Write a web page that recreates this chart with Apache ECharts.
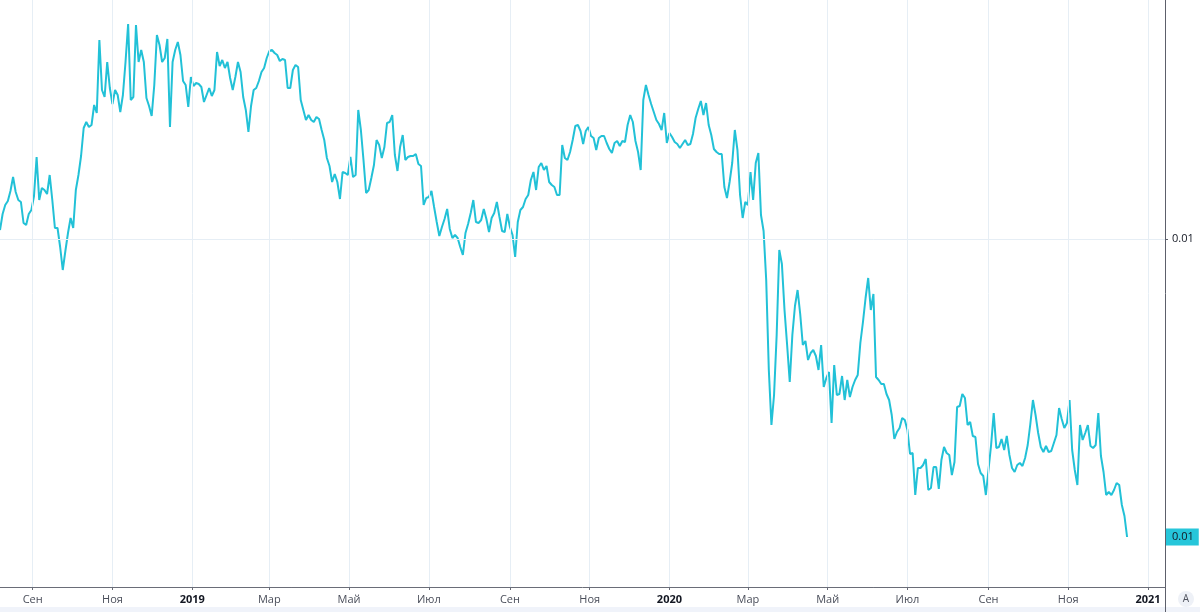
<!DOCTYPE html>
<html>
<head>
<meta charset="utf-8">
<title>chart</title>
<script src="https://cdn.jsdelivr.net/npm/echarts@6/dist/echarts.min.js"></script>
<style>
    html, body { margin: 0; padding: 0; background: #fff; }
    #main { width: 1200px; height: 612px; }
</style>
</head>
<body>
<div id="main"></div>
<script>
// 价格数据: 从 startDate 起, 每 stepDays 天一个点
var startDate = '2018-08-07'
var stepDays = 2
var prices = [
    0.01009, 0.01025, 0.01034, 0.01038, 0.01048, 0.01062, 0.01047, 0.01039, 0.01037, 0.01016, 0.01014, 0.01025,
    0.01029, 0.01043, 0.01082, 0.01039, 0.01051, 0.01049, 0.01045, 0.01064, 0.01039, 0.01011, 0.01011, 0.00992,
    0.00969, 0.00988, 0.01006, 0.01021, 0.01011, 0.01049, 0.01064, 0.01083, 0.01111, 0.01117, 0.01112, 0.01114,
    0.01134, 0.01126, 0.01199, 0.01149, 0.01142, 0.01177, 0.01151, 0.01135, 0.01149, 0.01144, 0.01127, 0.01144,
    0.01177, 0.01215, 0.01139, 0.01142, 0.01214, 0.01177, 0.01189, 0.01177, 0.01141, 0.01133, 0.01123, 0.01154,
    0.01204, 0.01194, 0.01177, 0.01181, 0.01200, 0.01112, 0.01177, 0.01189, 0.01197, 0.01184, 0.01158, 0.01154,
    0.01132, 0.01162, 0.01153, 0.01156, 0.01155, 0.01152, 0.01137, 0.01144, 0.01151, 0.01143, 0.01149, 0.01187,
    0.01173, 0.01179, 0.01171, 0.01177, 0.01161, 0.01149, 0.01162, 0.01177, 0.01167, 0.01142, 0.01129, 0.01107,
    0.01133, 0.01149, 0.01151, 0.01158, 0.01167, 0.01171, 0.01181, 0.01188, 0.01189, 0.01186, 0.01184, 0.01178,
    0.01180, 0.01179, 0.01151, 0.01151, 0.01169, 0.01174, 0.01172, 0.01139, 0.01129, 0.01119, 0.01124, 0.01119,
    0.01117, 0.01122, 0.01120, 0.01109, 0.01099, 0.01081, 0.01073, 0.01057, 0.01065, 0.01057, 0.01040, 0.01067,
    0.01066, 0.01064, 0.01082, 0.01062, 0.01064, 0.01129, 0.01109, 0.01079, 0.01046, 0.01049, 0.01061, 0.01074,
    0.01099, 0.01094, 0.01081, 0.01092, 0.01116, 0.01117, 0.01124, 0.01084, 0.01068, 0.01092, 0.01104, 0.01079,
    0.01082, 0.01083, 0.01083, 0.01085, 0.01075, 0.01073, 0.01034, 0.01041, 0.01042, 0.01048, 0.01032, 0.01017,
    0.01003, 0.01012, 0.01020, 0.01030, 0.01010, 0.01001, 0.01004, 0.01001, 0.00992, 0.00984, 0.01006, 0.01015,
    0.01026, 0.01039, 0.01017, 0.01016, 0.01019, 0.01030, 0.01020, 0.01007, 0.01021, 0.01026, 0.01037, 0.01022,
    0.01008, 0.01007, 0.01025, 0.01012, 0.01004, 0.00982, 0.01017, 0.01029, 0.01032, 0.01040, 0.01044, 0.01059,
    0.01067, 0.01049, 0.01072, 0.01076, 0.01069, 0.01073, 0.01057, 0.01054, 0.01052, 0.01044, 0.01044, 0.01094,
    0.01081, 0.01079, 0.01087, 0.01099, 0.01113, 0.01114, 0.01108, 0.01095, 0.01108, 0.01112, 0.01103, 0.01101,
    0.01089, 0.01101, 0.01103, 0.01103, 0.01096, 0.01090, 0.01086, 0.01096, 0.01098, 0.01093, 0.01098, 0.01097,
    0.01114, 0.01124, 0.01117, 0.01098, 0.01087, 0.01069, 0.01139, 0.01154, 0.01144, 0.01135, 0.01127, 0.01119,
    0.01115, 0.01109, 0.01126, 0.01096, 0.01106, 0.01102, 0.01097, 0.01095, 0.01091, 0.01095, 0.01099, 0.01094,
    0.01095, 0.01105, 0.01121, 0.01130, 0.01138, 0.01124, 0.01136, 0.01114, 0.01104, 0.01090, 0.01087, 0.01085,
    0.01085, 0.01052, 0.01041, 0.01057, 0.01076, 0.01109, 0.01089, 0.01044, 0.01021, 0.01037, 0.01034, 0.01067,
    0.01039, 0.01076, 0.01086, 0.01024, 0.01008, 0.00959, 0.00869, 0.00814, 0.00844, 0.00904, 0.00989, 0.00975,
    0.00929, 0.00894, 0.00857, 0.00904, 0.00933, 0.00949, 0.00925, 0.00894, 0.00898, 0.00879, 0.00886, 0.00889,
    0.00883, 0.00869, 0.00894, 0.00852, 0.00861, 0.00867, 0.00816, 0.00874, 0.00844, 0.00845, 0.00863, 0.00839,
    0.00859, 0.00842, 0.00852, 0.00859, 0.00864, 0.00896, 0.00917, 0.00941, 0.00961, 0.00929, 0.00945, 0.00862,
    0.00859, 0.00855, 0.00855, 0.00845, 0.00839, 0.00824, 0.00800, 0.00807, 0.00811, 0.00821, 0.00819, 0.00809,
    0.00785, 0.00786, 0.00744, 0.00771, 0.00771, 0.00774, 0.00780, 0.00749, 0.00751, 0.00772, 0.00772, 0.00750,
    0.00779, 0.00792, 0.00786, 0.00784, 0.00764, 0.00777, 0.00832, 0.00833, 0.00845, 0.00841, 0.00814, 0.00817,
    0.00803, 0.00802, 0.00775, 0.00766, 0.00763, 0.00744, 0.00769, 0.00794, 0.00826, 0.00791, 0.00792, 0.00800,
    0.00789, 0.00803, 0.00784, 0.00771, 0.00767, 0.00774, 0.00776, 0.00773, 0.00781, 0.00794, 0.00815, 0.00839,
    0.00824, 0.00806, 0.00792, 0.00787, 0.00793, 0.00787, 0.00788, 0.00796, 0.00804, 0.00831, 0.00820, 0.00811,
    0.00816, 0.00839, 0.00789, 0.00769, 0.00754, 0.00814, 0.00799, 0.00806, 0.00814, 0.00793, 0.00791, 0.00794,
    0.00826, 0.00783, 0.00767, 0.00744, 0.00747, 0.00744, 0.00749, 0.00756, 0.00754, 0.00734, 0.00723, 0.00702
]

// x 轴刻度 (每两个月)
var tickDates = ['2018-09-01', '2018-11-01', '2019-01-01', '2019-03-01', '2019-05-01', '2019-07-01', '2019-09-01',
    '2019-11-01', '2020-01-01', '2020-03-01', '2020-05-01', '2020-07-01', '2020-09-01', '2020-11-01', '2021-01-01']
var tickLabels = ['Сен', 'Ноя', '2019', 'Мар', 'Май', 'Июл', 'Сен', 'Ноя', '2020', 'Мар', 'Май', 'Июл', 'Сен', 'Ноя', '2021']
// y 轴刻度
var priceTicks = [0.01]

function toTime(s) {
    var p = s.split('-')
    return new Date(+p[0], +p[1] - 1, +p[2]).getTime()
}

var start = toTime(startDate)
var seriesData = []
for (var i = 0; i < prices.length; i++) {
    var d = new Date(start)
    d.setDate(d.getDate() + i * stepDays)
    seriesData.push([d.getTime(), prices[i]])
}
var lastPrice = prices[prices.length - 1]

var tickTimes = []
var gridLines = []
for (var i = 0; i < tickDates.length; i++) {
    tickTimes.push(toTime(tickDates[i]))
    gridLines.push({ xAxis: toTime(tickDates[i]) })
}
for (var i = 0; i < priceTicks.length; i++) {
    gridLines.push({ yAxis: priceTicks[i] })
}

var myChart = echarts.init(document.getElementById('main'))
var option = {
    animation: false,
    textStyle: { fontFamily: 'Open Sans' },
    grid: { left: 0, right: 35, top: 0, bottom: 25 },
    xAxis: {
        // 用数值轴放时间戳, 刻度用 customValues
        type: 'value',
        min: toTime('2018-08-07'),
        max: toTime('2021-01-14'),
        axisLine: { lineStyle: { color: '#6a6d78', width: 1 } },
        axisTick: { show: true, customValues: tickTimes, length: 3, lineStyle: { color: '#6a6d78' } },
        axisLabel: {
            customValues: tickTimes,
            margin: 7,
            fontSize: 11,
            color: '#4a4e5a',
            formatter: function (v) {
                var k = tickTimes.indexOf(v)
                var s = k >= 0 ? tickLabels[k] : ''
                return /^\d{4}$/.test(s) ? '{y|' + s + '}' : s
            },
            rich: { y: { fontWeight: 'bold', fontSize: 11, color: '#131722' } }
        },
        splitLine: { show: false }
    },
    yAxis: {
        type: 'value',
        position: 'right',
        min: 0.00652,
        max: 0.01239,
        axisLine: { show: true, lineStyle: { color: '#5d606b' } },
        axisTick: { show: true, customValues: [0.01, lastPrice], length: 3, lineStyle: { color: '#5d606b' } },
        axisLabel: {
            customValues: priceTicks,
            margin: 7,
            fontSize: 11,
            color: '#131722',
            formatter: function (v) { return v.toFixed(2) }
        },
        splitLine: { show: false }
    },
    series: [
        {
            // 网格线
            type: 'line',
            data: [],
            z: 1,
            silent: true,
            markLine: {
                silent: true,
                symbol: 'none',
                precision: 5,
                label: { show: false },
                lineStyle: { color: '#e6eef5', width: 1, type: 'solid' },
                data: gridLines
            }
        },
        {
            type: 'line',
            data: seriesData,
            z: 3,
            showSymbol: false,
            symbol: 'none',
            lineStyle: { color: '#22c1d7', width: 2 },
            markLine: {
                // 最新价格标签
                silent: true,
                symbol: 'none',
                precision: 5,
                lineStyle: { color: 'rgba(0,0,0,0)', width: 0 },
                label: {
                    show: true,
                    position: 'end',
                    distance: 1,
                    formatter: lastPrice.toFixed(2),
                    backgroundColor: '#26c6da',
                    color: '#131722',
                    fontSize: 11,
                    padding: [3, 5, 3, 6]
                },
                data: [{ yAxis: lastPrice }]
            }
        }
    ],
    graphic: [
        { type: 'rect', shape: { x: 0, y: 607, width: 1200, height: 5 }, style: { fill: '#f0f3fa' }, silent: true },
        { type: 'line', shape: { x1: 1165.5, y1: 587, x2: 1165.5, y2: 612 }, style: { stroke: '#5d606b', lineWidth: 1 }, silent: true },
        { type: 'circle', shape: { cx: 1186, cy: 599, r: 8 }, style: { fill: '#eef1f7' }, silent: true },
        { type: 'text', x: 1186, y: 599, style: { text: 'A', fill: '#50535e', fontSize: 10, fontFamily: 'Open Sans', align: 'center', verticalAlign: 'middle' }, silent: true }
    ]
}
myChart.setOption(option)
</script>
</body>
</html>
